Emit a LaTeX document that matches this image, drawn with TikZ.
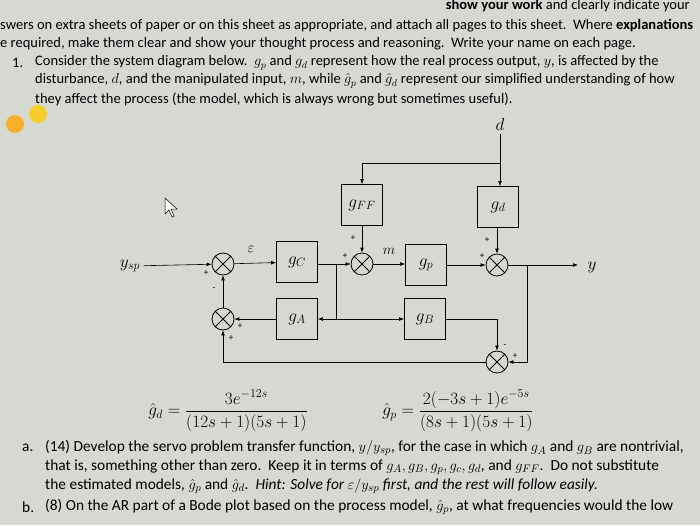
\documentclass[tikz,border=0pt]{standalone}
\usepackage{fontspec}
\setmainfont{Carlito}
\usetikzlibrary{arrows.meta}
\begin{document}
\begin{tikzpicture}[x=1pt,y=-1pt,
  blk/.style={draw,thick,minimum width=41pt,minimum height=41pt,inner sep=0pt,font=\LARGE},
  sumj/.style={draw,thick,circle,minimum size=22pt,inner sep=0pt,path picture={\draw[thick] (path picture bounding box.north west)++(3.3pt,-3.3pt) -- ([shift={(-3.3pt,3.3pt)}]path picture bounding box.south east);\draw[thick] ([shift={(3.3pt,3.3pt)}]path picture bounding box.south west) -- ([shift={(-3.3pt,-3.3pt)}]path picture bounding box.north east);}},
  ln/.style={draw,line width=0.6pt},
  ar/.style={ln,-{Latex[length=5pt]}},
  sg/.style={font=\small,inner sep=0pt},
  lbl/.style={font=\LARGE},
  txt/.style={anchor=west,inner sep=0pt,font=\fontsize{14.5}{15}\selectfont},
  txtb/.style={anchor=west,inner sep=0pt,font=\fontsize{15.4}{16}\selectfont}]
\useasboundingbox (0,0) rectangle (700,525);
\fill[color={rgb,255:red,214;green,216;blue,210}] (0,0) rectangle (700,525);
\fill[orange!70!yellow, opacity=0.8] (15,124) circle (9);
\fill[orange!40!yellow, opacity=0.8] (38,114) circle (9);
% header
\node[txt,anchor=east] (h1) at (690,6) {\textbf{show your work} and clearly indicate your};
\node[txt] (h2) at (0,26) {swers on extra sheets of paper or on this sheet as appropriate, and attach all pages to this sheet.\ \ Where \textbf{explanations}};
\node[txt] (h3) at (0,44) {e required, make them clear and show your thought process and reasoning.\ \ Write your name on each page.};
\node[txt] (h4) at (12,63) {1.};
\node[txt] (h5) at (35,63) {Consider the system diagram below.\ \ $g_p$ and $g_d$ represent how the real process output, $y$, is affected by the};
\node[txt] (h6) at (35,81) {disturbance, $d$, and the manipulated input, $m$, while $\hat g_p$ and $\hat g_d$ represent our simplified understanding of how};
\node[txt] (h7) at (35,99) {they affect the process (the model, which is always wrong but sometimes useful).};
% diagram
\node[blk] (gff) at (362,205) {$g_{FF}$};
\node[blk] (gd) at (498,207) {$g_d$};
\node[blk] (gc) at (297,262) {$g_C$};
\node[blk] (gp) at (426,265) {$g_p$};
\node[blk] (ga) at (297,319) {$g_A$};
\node[blk] (gb) at (425,319) {$g_B$};
\node[sumj] (s1) at (223,264) {};
\node[sumj] (s2) at (362,264) {};
\node[sumj] (s3) at (497,265) {};
\node[sumj] (s5) at (223,319) {};
\node[sumj] (s4) at (497,362) {};
\node[lbl] (ysp) at (130,266) {$y_{sp}$};
\node[lbl] (d) at (500,124) {$d$};
\node[lbl] (y) at (592,267) {$y$};
\node[font=\Large] (eps) at (251,249) {$\varepsilon$};
\node[font=\Large] (m) at (389,251) {$m$};
\coordinate (dj) at (500,163);
\coordinate (j1) at (336,264);
\coordinate (j2) at (336,319);
\coordinate (yj) at (527,265);
\coordinate (yend) at (578,265);
\draw[ln] (d) -- (dj);
\draw[ar] (dj) -- (gd.north -| dj);
\draw[ar] (dj) -| (gff);
\draw[ar] (ysp) -- (s1);
\draw[ar] (s1) -- (gc);
\draw[ln] (gc.east |- j1) -- (j1);
\draw[ar] (j1) -- (s2);
\draw[ar] (s2) -- (gp.west |- s2);
\draw[ar] (gff) -- (s2);
\draw[ar] (gp.east |- s3) -- (s3);
\draw[ar] (gd.south -| s3) -- (s3);
\draw[ar] (s3) -- (yend);
\draw[ln] (j1) -- (j2);
\draw[ar] (j2) -- (ga.east);
\draw[ar] (j2) -- (gb.west);
\draw[ar] (ga) -- (s5);
\draw[ar] (gb) -| (s4);
\draw[ar] (yj) |- (s4);
\draw[ar] (s4) -| (s5);
\draw[ar] (s5) -- (s1);
% signs
\node[sg] at (206,273) {+};
\node[sg] at (214,289) {-};
\node[sg] at (240,326) {+};
\node[sg] at (231,338) {+};
\node[sg] at (353,238) {+};
\node[sg] at (345,256) {+};
\node[sg] at (487,240) {+};
\node[sg] at (482,256) {+};
\node[sg] at (505,346) {-};
\node[sg] at (515,356) {+};
% cursor
\draw[line width=0.5pt,fill=white] (165,198) -- (165,214) -- (169,210) -- (172,217) -- (174,216) -- (171,209) -- (177,209) -- cycle;
% equations
\node[font=\LARGE] (eq1) at (228,411) {$\hat g_d=\displaystyle\frac{3e^{-12s}}{(12s+1)(5s+1)}$};
\node[font=\LARGE] (eq2) at (458,411) {$\hat g_p=\displaystyle\frac{2(-3s+1)e^{-5s}}{(8s+1)(5s+1)}$};
\node[txtb] (a1) at (22,448) {a.};
\node[txtb] (a2) at (45,448) {(14) Develop the servo problem transfer function, $y/y_{sp}$, for the case in which $g_A$ and $g_B$ are nontrivial,};
\node[txtb] (a3) at (45,467) {that is, something other than zero.\ \ Keep it in terms of $g_A, g_B, g_p, g_c, g_d$, and $g_{FF}$.\ \ Do not substitute};
\node[txtb] (a4) at (45,486) {the estimated models, $\hat g_p$ and $\hat g_d$.\ \ \textit{Hint: Solve for $\varepsilon/y_{sp}$ first, and the rest will follow easily.}};
\node[txtb] (b1) at (22,507) {b.};
\node[txtb] (b2) at (45,507) {(8) On the AR part of a Bode plot based on the process model, $\hat g_p$, at what frequencies would the low};
\end{tikzpicture}
\end{document}
